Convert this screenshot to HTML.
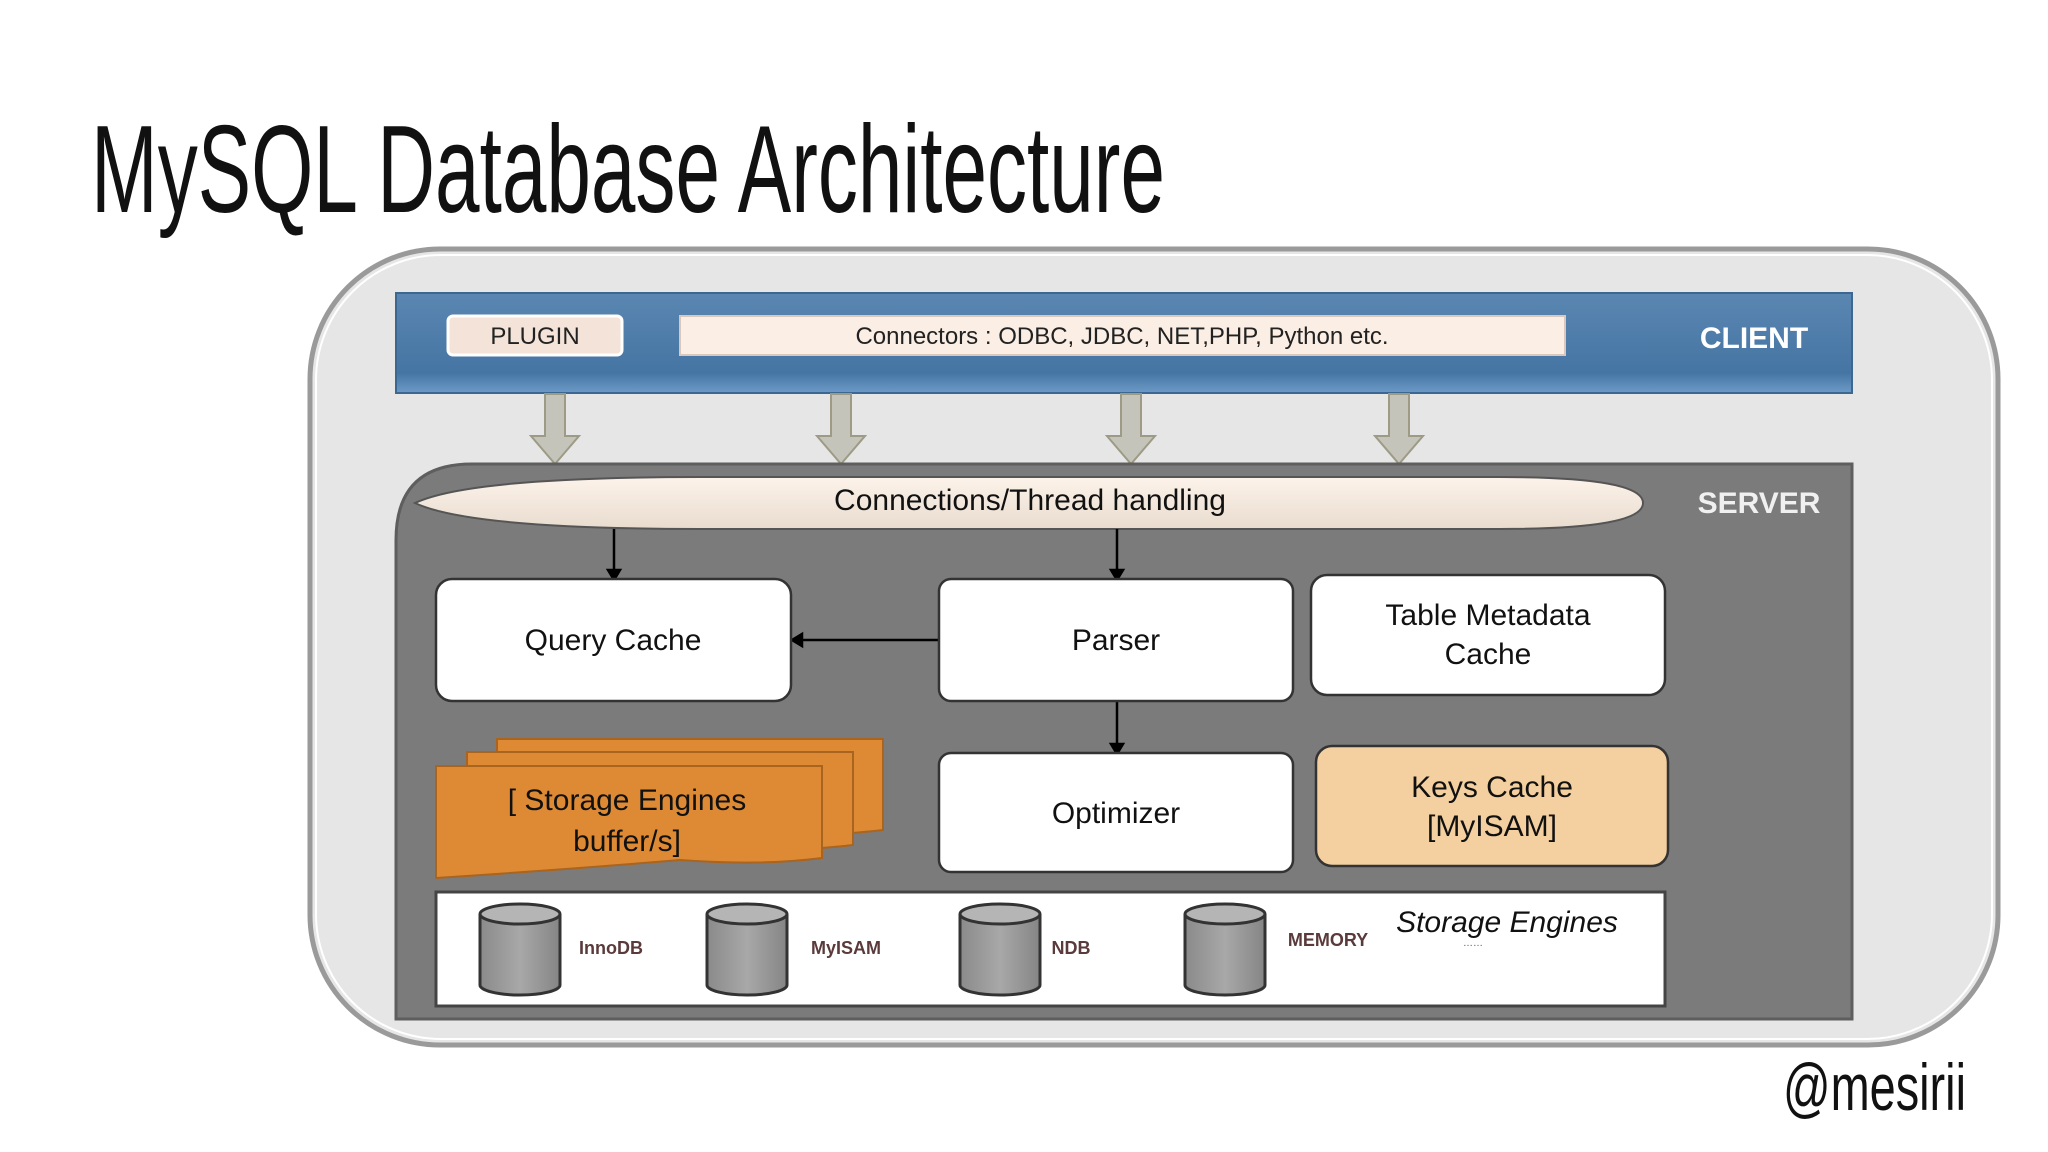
<!DOCTYPE html>
<html><head><meta charset="utf-8"><style>
html,body{margin:0;padding:0;background:#fff;}
svg{display:block;}
text{font-family:"Liberation Sans",sans-serif;}
</style></head><body>
<svg width="2048" height="1152" viewBox="0 0 2048 1152" xmlns="http://www.w3.org/2000/svg">
<defs>
<linearGradient id="blue" x1="0" y1="0" x2="0" y2="1">
<stop offset="0" stop-color="#5b86b2"/><stop offset="0.8" stop-color="#4575a3"/><stop offset="1" stop-color="#6d9bc8"/></linearGradient>
<linearGradient id="ell" x1="0" y1="0" x2="0" y2="1">
<stop offset="0" stop-color="#fdf3ea"/><stop offset="1" stop-color="#e9dccf"/></linearGradient>
<linearGradient id="cyl" x1="0" y1="0" x2="1" y2="0">
<stop offset="0" stop-color="#8a8a8a"/><stop offset="0.5" stop-color="#a8a8a8"/><stop offset="1" stop-color="#858585"/></linearGradient>
</defs>
<text x="91" y="212" font-family="Liberation Sans Narrow, Liberation Sans, sans-serif" font-size="124" textLength="1074" lengthAdjust="spacingAndGlyphs" fill="#111">MySQL Database Architecture</text>

<rect x="310" y="249" width="1688" height="796" rx="130" fill="#e6e6e6" stroke="#9a9a9a" stroke-width="5"/>
<rect x="316" y="255" width="1676" height="784" rx="125" fill="none" stroke="#fff" stroke-width="2"/>

<rect x="396" y="293" width="1456" height="100" fill="url(#blue)"/>
<rect x="396" y="293" width="1456" height="100" fill="none" stroke="#3b6790" stroke-width="2"/>
<rect x="448" y="316" width="174" height="39" rx="5" fill="#f3e3d8" stroke="#fff" stroke-width="3"/>
<text x="535" y="344" font-size="24" text-anchor="middle" fill="#222">PLUGIN</text>
<rect x="680" y="316" width="885" height="39" fill="#fbeee4" stroke="#d9c8bb" stroke-width="2"/>
<text x="1122" y="344" font-size="24" text-anchor="middle" fill="#222">Connectors : ODBC, JDBC, NET,PHP, Python etc.</text>
<text x="1754" y="348" font-size="30" font-weight="bold" text-anchor="middle" fill="#fff">CLIENT</text>

<g fill="#c4c4bb" stroke="#9d9b85" stroke-width="2">
<path d="M545 394 h20 v42 h14 l-24 28 l-24 -28 h14z"/>
<path d="M831 394 h20 v42 h14 l-24 28 l-24 -28 h14z"/>
<path d="M1121 394 h20 v42 h14 l-24 28 l-24 -28 h14z"/>
<path d="M1389 394 h20 v42 h14 l-24 28 l-24 -28 h14z"/>
</g>

<path d="M396 1019 V540 Q396 464 472 464 H1852 V1019 Z" fill="#7b7b7b" stroke="#5e5e5e" stroke-width="3"/>
<text x="1759" y="513" font-size="30" font-weight="bold" text-anchor="middle" fill="#f0f0f0">SERVER</text>

<path d="M415 503 Q470 477 700 477 H1500 Q1643 477 1643 503 Q1643 529 1500 529 H700 Q470 529 415 503 Z" fill="url(#ell)" stroke="#555" stroke-width="2"/>
<text x="1030" y="510" font-size="30" text-anchor="middle" fill="#111">Connections/Thread handling</text>

<g stroke="#000" stroke-width="2.5" fill="#000">
<line x1="614" y1="529" x2="614" y2="572"/><path d="M608 570 l6 10 l6 -10z"/>
<line x1="1117" y1="529" x2="1117" y2="572"/><path d="M1111 570 l6 10 l6 -10z"/>
<line x1="939" y1="640" x2="800" y2="640"/><path d="M802 634 l-10 6 l10 6z"/>
<line x1="1117" y1="701" x2="1117" y2="746"/><path d="M1111 744 l6 10 l6 -10z"/>
</g>

<g stroke="#333" stroke-width="2.5" fill="#fff">
<rect x="436" y="579" width="355" height="122" rx="16"/>
<rect x="939" y="579" width="354" height="122" rx="12"/>
<rect x="1311" y="575" width="354" height="120" rx="16"/>
<rect x="939" y="753" width="354" height="119" rx="12"/>
<rect x="1316" y="746" width="352" height="120" rx="16" fill="#f4cf9f"/>
</g>
<g font-size="30" text-anchor="middle" fill="#111">
<text x="613" y="650">Query Cache</text>
<text x="1116" y="650">Parser</text>
<text x="1488" y="625">Table Metadata</text>
<text x="1488" y="664">Cache</text>
<text x="1116" y="823">Optimizer</text>
<text x="1492" y="797">Keys Cache</text>
<text x="1492" y="836">[MyISAM]</text>
</g>

<g fill="#de8a34" stroke="#a9641f" stroke-width="2">
<path d="M497 739 H883 V830 Q840 835 760 838 L497 838 Z"/>
<path d="M467 752 H853 V845 Q810 850 730 853 L467 853 Z"/>
<path d="M436 766 H822 V858 Q760 866 680 860 Q560 870 436 878 Z"/>
</g>
<text x="627" y="810" font-size="30" text-anchor="middle" fill="#111">[ Storage Engines</text>
<text x="627" y="851" font-size="30" text-anchor="middle" fill="#111">buffer/s]</text>

<rect x="436" y="892" width="1229" height="114" fill="#fff" stroke="#444" stroke-width="3"/>
<g stroke="#333" stroke-width="3" fill="url(#cyl)">
<path d="M480 914 V985 A40 10 0 0 0 560 985 V914"/><ellipse cx="520" cy="914" rx="40" ry="10" fill="#b5b5b5"/>
<path d="M707 914 V985 A40 10 0 0 0 787 985 V914"/><ellipse cx="747" cy="914" rx="40" ry="10" fill="#b5b5b5"/>
<path d="M960 914 V985 A40 10 0 0 0 1040 985 V914"/><ellipse cx="1000" cy="914" rx="40" ry="10" fill="#b5b5b5"/>
<path d="M1185 914 V985 A40 10 0 0 0 1265 985 V914"/><ellipse cx="1225" cy="914" rx="40" ry="10" fill="#b5b5b5"/>
</g>
<g font-size="18" font-weight="bold" fill="#5a3a3a" text-anchor="middle">
<text x="611" y="954">InnoDB</text>
<text x="846" y="954">MyISAM</text>
<text x="1071" y="954">NDB</text>
<text x="1328" y="946">MEMORY</text>
</g>
<text x="1507" y="932" font-size="30" font-style="italic" text-anchor="middle" fill="#111">Storage Engines</text>
<text x="1473" y="946" font-size="10" text-anchor="middle" fill="#555">……</text>

<text x="1783" y="1110" font-family="Liberation Sans Narrow, Liberation Sans, sans-serif" font-size="66" textLength="183" lengthAdjust="spacingAndGlyphs" fill="#111">@mesirii</text>
</svg>
</body></html>
